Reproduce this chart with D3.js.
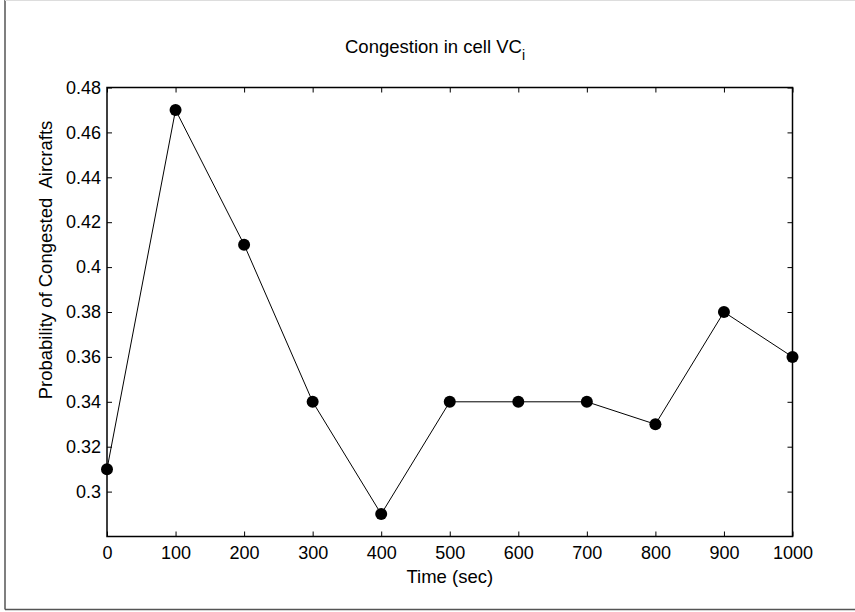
<!DOCTYPE html>
<html>
<head>
<meta charset="utf-8">
<script src="https://cdn.jsdelivr.net/npm/d3@7"></script>
<style>
  body { margin: 0; background: #fff; }
  svg text { font-family: "Liberation Sans", Arial, Helvetica, sans-serif; fill: #000; }
</style>
</head>
<body>
<div class="chart"></div>
<script>
var times = [0, 100, 200, 300, 400, 500, 600, 700, 800, 900, 1000];
var probs = [0.31, 0.47, 0.41, 0.34, 0.29, 0.34, 0.34, 0.34, 0.33, 0.38, 0.36];
var xTicks = [0, 100, 200, 300, 400, 500, 600, 700, 800, 900, 1000];
var yTicks = [0.3, 0.32, 0.34, 0.36, 0.38, 0.4, 0.42, 0.44, 0.46, 0.48];

var data = times.map((t, i) => ({t: t, p: probs[i]}));

const W = 855, H = 612;
const margin = { top: 87.5, bottom: 75.5, left: 107, right: 62.5 };
const width = W - margin.left - margin.right;
const height = H - margin.top - margin.bottom;
const fs = '18px';

var root = d3.select('.chart')
  .append('svg')
    .attr('width', W)
    .attr('height', H);

// figure frame
root.append('line').attr('x1', 5).attr('x2', 5).attr('y1', 0).attr('y2', 609.5)
  .attr('stroke', '#555').attr('stroke-width', 1.5);
root.append('line').attr('x1', 5).attr('x2', W).attr('y1', 609.5).attr('y2', 609.5)
  .attr('stroke', '#555').attr('stroke-width', 1.5);
root.append('line').attr('x1', 5).attr('x2', W).attr('y1', 0.5).attr('y2', 0.5)
  .attr('stroke', '#ddd').attr('stroke-width', 1);

var svg = root.append('g')
  .attr('transform', `translate(${margin.left}, ${margin.top})`);

var xScale = d3.scaleLinear().domain([0, 1000]).range([0, width]);
var yScale = d3.scaleLinear().domain([0.28, 0.48]).range([height, 0]);

function styleAxis(g) {
  g.select('.domain').remove();
  g.selectAll('.tick line').attr('stroke', '#000');
  g.selectAll('.tick text').style('font-size', fs);
}

// bottom axis (ticks pointing inward)
svg.append('g')
  .attr('transform', `translate(0, ${height})`)
  .call(d3.axisBottom(xScale).tickValues(xTicks).tickSizeInner(-5).tickSizeOuter(0).tickPadding(10).tickFormat(d3.format('d')))
  .call(styleAxis);
// top axis ticks
svg.append('g')
  .call(d3.axisTop(xScale).tickValues(xTicks).tickSizeInner(-5).tickSizeOuter(0).tickFormat(''))
  .call(styleAxis);
// left axis
svg.append('g')
  .call(d3.axisLeft(yScale).tickValues(yTicks).tickSizeInner(-5).tickSizeOuter(0).tickPadding(6).tickFormat(d => String(+d.toFixed(2))))
  .call(styleAxis);
// right axis ticks
svg.append('g')
  .attr('transform', `translate(${width}, 0)`)
  .call(d3.axisRight(yScale).tickValues(yTicks).tickSizeInner(-5).tickSizeOuter(0).tickFormat(''))
  .call(styleAxis);

// box
svg.append('rect')
  .attr('width', width).attr('height', height)
  .attr('fill', 'none').attr('stroke', '#000').attr('stroke-width', 1.5);

var line = d3.line().x(d => xScale(d.t)).y(d => yScale(d.p));
svg.append('path').datum(data)
  .attr('d', line).attr('fill', 'none').attr('stroke', '#000').attr('stroke-width', 1);

svg.selectAll('circle').data(data).enter().append('circle')
  .attr('cx', d => xScale(d.t)).attr('cy', d => yScale(d.p))
  .attr('r', 6).attr('fill', '#000');

// labels
var title = root.append('text')
  .attr('x', 435).attr('y', 53)
  .attr('text-anchor', 'middle').style('font-size', '18.5px');
title.append('tspan').text('Congestion in cell VC');
title.append('tspan').attr('dy', 7).style('font-size', '14px').text('i');

root.append('text')
  .attr('x', margin.left + width / 2).attr('y', 583)
  .attr('text-anchor', 'middle').style('font-size', '18.5px')
  .text('Time (sec)');

root.append('text')
  .attr('transform', `translate(52, 260) rotate(-90)`)
  .attr('text-anchor', 'middle').style('font-size', '18.5px')
  .attr('xml:space', 'preserve').style('white-space', 'pre')
  .text('Probability of Congested  Aircrafts');
</script>
</body>
</html>
